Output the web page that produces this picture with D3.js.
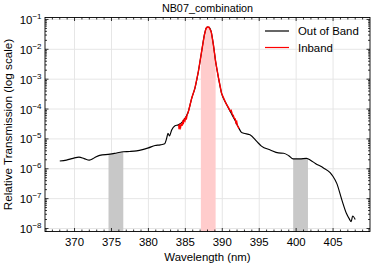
<!DOCTYPE html>
<html>
<head>
<meta charset="utf-8">
<script src="https://cdn.jsdelivr.net/npm/d3@7"></script>
<style>
  body { margin: 0; background: #fff; }
  svg text { font-family: "Liberation Sans", Arial, sans-serif; fill: #000; }
</style>
</head>
<body>
<div id="chart"></div>
<script>
// full transmission curve (out of band)
const wavelength = [368.0, 368.9, 369.8, 370.6, 371.3, 372.0, 372.7, 373.4, 374.8, 375.7, 376.6, 377.5,
  378.4, 379.2, 380.0, 380.9, 381.6, 382.2, 382.5, 382.65, 382.85, 383.15, 383.6, 384.05, 384.7, 385.4,
  385.86, 386.3, 386.76, 387.2, 387.57, 387.8, 387.97, 388.2, 388.5, 388.8, 389.1, 389.5, 389.9, 390.5,
  391.1, 391.7, 392.2, 392.6, 392.9, 393.75, 394.7, 395.3, 396.5, 397.6, 398.3, 399.0, 399.6, 400.5,
  401.4, 402.0, 402.6, 403.7, 404.6, 405.0, 405.5, 406.2, 406.8, 407.2, 407.45, 407.65, 408.0];
const transmission = [1.82e-6, 1.95e-6, 2.24e-6, 2.45e-6, 2.19e-6, 1.95e-6, 2.34e-6, 2.82e-6, 3.09e-6, 3.39e-6, 3.72e-6, 3.80e-6,
  3.98e-6, 4.37e-6, 5.0e-6, 6.03e-6, 6.3e-6, 6.9e-6, 1.12e-5, 1.55e-5, 1.26e-5, 2.0e-5, 2.75e-5, 2.95e-5, 3.98e-5, 8.1e-5,
  2.29e-4, 5.0e-4, 1.78e-3, 8.3e-3, 0.030, 0.050, 0.056, 0.055, 0.039, 0.0141, 3.9e-3, 1.07e-3, 3.4e-4, 1.55e-4,
  8.1e-5, 4.27e-5, 2.4e-5, 1.66e-5, 1.55e-5, 1.38e-5, 8.1e-6, 5.75e-6, 4.27e-6, 3.39e-6, 3.31e-6, 2.75e-6, 2.14e-6, 2.14e-6,
  2.24e-6, 1.9e-6, 1.51e-6, 1.07e-6, 7.4e-7, 5.5e-7, 3.24e-7, 8.9e-8, 3.24e-8, 2.1e-8, 1.7e-8, 2.63e-8, 2.0e-8];

// inband part, measured separately (noisier wings)
const inbandWavelength = [384.1, 384.15, 384.25, 384.35, 384.45, 384.55, 384.65, 384.75, 384.85, 384.95, 385.05, 385.15,
  385.25, 385.35, 385.45, 385.86, 386.3, 386.76, 387.2, 387.57, 387.8, 387.97, 388.2, 388.5, 388.8, 389.1, 389.5,
  389.9, 390.5, 390.9, 391.05, 391.2, 391.35, 391.5, 391.6, 391.75, 391.85, 391.95, 392.05, 392.15, 392.25];
const inbandTransmission = [3.0e-5, 2.1e-5, 2.8e-5, 2.4e-5, 3.3e-5, 2.75e-5, 3.8e-5, 3.4e-5, 4.4e-5, 4.0e-5, 5.2e-5, 4.8e-5,
  6.6e-5, 7.2e-5, 8.9e-5, 2.29e-4, 5.0e-4, 1.78e-3, 8.3e-3, 0.030, 0.050, 0.056, 0.055, 0.039, 0.0141, 3.9e-3, 1.07e-3,
  3.4e-4, 1.55e-4, 1.05e-4, 8.7e-5, 9.1e-5, 6.8e-5, 6.0e-5, 5.0e-5, 4.7e-5, 3.5e-5, 3.8e-5, 2.8e-5, 2.6e-5, 2.2e-5];

// shaded bands [start, end] in nm
const bandStarts = [374.6, 387.1, 399.6];
const bandEnds = [376.6, 389.1, 401.6];
const bandKinds = ['side', 'center', 'side'];

const xTicks = [370, 375, 380, 385, 390, 395, 400, 405];
const yTickExps = [-8, -7, -6, -5, -4, -3, -2, -1];

const width = 374, height = 265;
const margin = {top: 17.5, right: 4, bottom: 33.5, left: 45};
const plotW = width - margin.left - margin.right;
const plotH = height - margin.top - margin.bottom;

const svg = d3.select('#chart').append('svg')
    .attr('width', width)
    .attr('height', height);

const g = svg.append('g')
    .attr('transform', 'translate(' + margin.left + ',' + margin.top + ')');

const x = d3.scaleLinear().domain([366, 410]).range([0, plotW]);
const y = d3.scaleLog().domain([Math.pow(10, -8.1), Math.pow(10, -0.935)]).range([plotH, 0]);

const curveData = wavelength.map((w, i) => ({w: w, t: transmission[i]}));
const inbandData = inbandWavelength.map((w, i) => ({w: w, t: inbandTransmission[i]}));

/* ------- grid ---------- */
g.append('g').selectAll('line')
    .data(xTicks).enter().append('line')
    .attr('x1', d => x(d)).attr('x2', d => x(d))
    .attr('y1', 0).attr('y2', plotH)
    .attr('stroke', '#e6e6e6').attr('stroke-width', 1);
g.append('g').selectAll('line')
    .data(yTickExps).enter().append('line')
    .attr('x1', 0).attr('x2', plotW)
    .attr('y1', d => y(Math.pow(10, d))).attr('y2', d => y(Math.pow(10, d)))
    .attr('stroke', '#e6e6e6').attr('stroke-width', 1);

/* ------- bands under the curve ---------- */
// log-linear interpolation of the curve at a wavelength
function interp(w) {
    for (let i = 1; i < curveData.length; i++) {
        if (curveData[i].w >= w) {
            const a = curveData[i - 1], b = curveData[i];
            const f = (w - a.w) / (b.w - a.w);
            return Math.pow(10, Math.log10(a.t) + f * (Math.log10(b.t) - Math.log10(a.t)));
        }
    }
    return curveData[curveData.length - 1].t;
}

const area = d3.area()
    .x(d => x(d.w))
    .y0(plotH)
    .y1(d => y(d.t));

bandStarts.forEach((s, i) => {
    const e = bandEnds[i];
    const pts = [{w: s, t: interp(s)}]
        .concat(curveData.filter(d => d.w > s && d.w < e))
        .concat([{w: e, t: interp(e)}]);
    g.append('path')
        .datum(pts)
        .attr('d', area)
        .attr('fill', bandKinds[i] === 'center' ? '#ffcccc' : '#c8c8c8');
});

/* ------- curves ---------- */
const line = d3.line()
    .x(d => x(d.w))
    .y(d => y(d.t));

g.append('path')
    .datum(curveData)
    .attr('d', line.curve(d3.curveMonotoneX))
    .attr('fill', 'none')
    .attr('stroke', '#000')
    .attr('stroke-width', 1.15);

g.append('path')
    .datum(inbandData)
    .attr('d', line.curve(d3.curveLinear))
    .attr('fill', 'none')
    .attr('stroke', '#ff0000')
    .attr('stroke-width', 1.4);

/* ------- frame and ticks (inward, all sides) ---------- */
const xMinor = d3.range(367, 410).filter(v => v % 5 !== 0);
const yMinor = [];
for (let e = -9; e <= -1; e++) {
    for (let m = 2; m <= 9; m++) {
        const v = m * Math.pow(10, e);
        if (v > y.domain()[0] && v < y.domain()[1]) yMinor.push(v);
    }
}

const ticks = g.append('g').attr('stroke', '#000').attr('stroke-width', 0.8);
[[0, 1], [plotH, -1]].forEach(([yy, dir]) => {
    ticks.selectAll(null).data(xTicks).enter().append('line')
        .attr('x1', d => x(d)).attr('x2', d => x(d))
        .attr('y1', yy).attr('y2', yy + dir * 3.5);
    ticks.selectAll(null).data(xMinor).enter().append('line')
        .attr('x1', d => x(d)).attr('x2', d => x(d))
        .attr('y1', yy).attr('y2', yy + dir * 2);
});
[[0, 1], [plotW, -1]].forEach(([xx, dir]) => {
    ticks.selectAll(null).data(yTickExps).enter().append('line')
        .attr('y1', d => y(Math.pow(10, d))).attr('y2', d => y(Math.pow(10, d)))
        .attr('x1', xx).attr('x2', xx + dir * 3.5);
    ticks.selectAll(null).data(yMinor).enter().append('line')
        .attr('y1', d => y(d)).attr('y2', d => y(d))
        .attr('x1', xx).attr('x2', xx + dir * 2);
});

g.append('rect')
    .attr('width', plotW).attr('height', plotH)
    .attr('fill', 'none').attr('stroke', '#000').attr('stroke-width', 0.9);

/* ------- tick labels ---------- */
g.append('g').selectAll('text')
    .data(xTicks).enter().append('text')
    .attr('x', d => x(d))
    .attr('y', plotH + 14)
    .attr('text-anchor', 'middle')
    .style('font-size', '11.4px')
    .text(d => d);

const yLabels = g.append('g').selectAll('text')
    .data(yTickExps).enter().append('text')
    .attr('x', -3.5)
    .attr('y', d => y(Math.pow(10, d)) + 4.5)
    .attr('text-anchor', 'end')
    .style('font-size', '11.4px');
yLabels.append('tspan').text('10');
yLabels.append('tspan')
    .attr('dy', -5)
    .style('font-size', '8px')
    .text(d => '\u2212' + Math.abs(d));

/* ------- titles ---------- */
svg.append('text')
    .attr('x', margin.left + plotW / 2)
    .attr('y', 12)
    .attr('text-anchor', 'middle')
    .style('font-size', '10.8px')
    .text('NB07_combination');

svg.append('text')
    .attr('x', margin.left + plotW / 2)
    .attr('y', 261)
    .attr('text-anchor', 'middle')
    .style('font-size', '11.4px')
    .text('Wavelength (nm)');

svg.append('text')
    .attr('transform', 'translate(12,' + (margin.top + plotH / 2) + ') rotate(-90)')
    .attr('text-anchor', 'middle')
    .style('font-size', '11.7px')
    .text('Relative Transmission (log scale)');

/* ------- legend ---------- */
const legendItems = ['Out of Band', 'Inband'];
const legendColors = ['#000', '#ff0000'];
const legend = svg.append('g');
legendItems.forEach((name, i) => {
    const ly = 31 + i * 16.5;
    legend.append('line')
        .attr('x1', 265).attr('x2', 289)
        .attr('y1', ly).attr('y2', ly)
        .attr('stroke', legendColors[i]).attr('stroke-width', 1.2);
    legend.append('text')
        .attr('x', 298).attr('y', ly + 4)
        .style('font-size', '11.4px')
        .text(name);
});
</script>
</body>
</html>
